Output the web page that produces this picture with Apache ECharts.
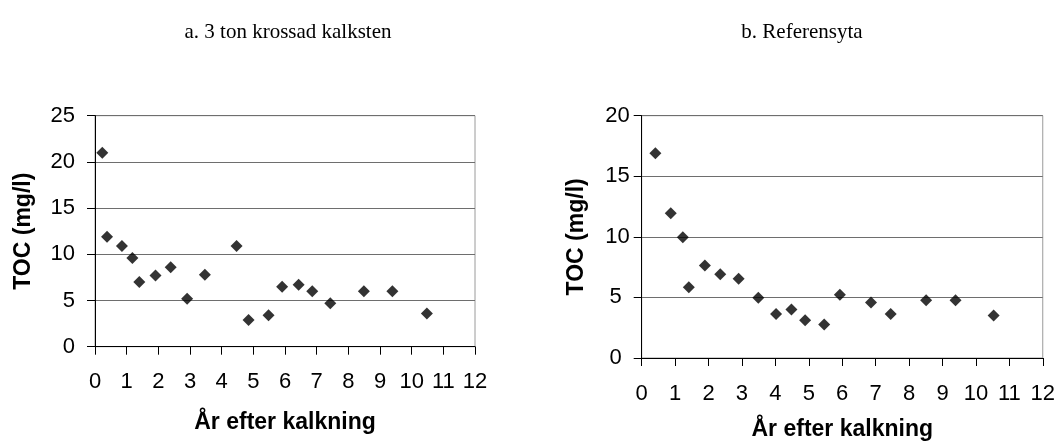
<!DOCTYPE html>
<html>
<head>
<meta charset="utf-8">
<script src="https://cdn.jsdelivr.net/npm/echarts@6/dist/echarts.min.js"></script>
<style>
html,body{margin:0;padding:0;background:#fff;}
#c{width:1058px;height:446px;}
</style>
</head>
<body>
<div id="c"></div>
<script>
// Panel titles
const titleA = 'a. 3 ton krossad kalksten';
const titleB = 'b. Referensyta';
const xName = 'År efter kalkning';
const yName = 'TOC (mg/l)';

// Panel a: 3 ton krossad kalksten
const yearsA = [0.23, 0.38, 0.85, 1.18, 1.40, 1.91, 2.39, 2.91, 3.47, 4.47, 4.85, 5.48, 5.91, 6.43, 6.86, 7.43, 8.49, 9.39, 10.48];
const tocA   = [21.0, 11.9, 10.9, 9.6, 7.0, 7.7, 8.6, 5.2, 7.8, 10.9, 2.9, 3.4, 6.5, 6.7, 6.0, 4.7, 6.0, 6.0, 3.6];

// Panel b: Referensyta
const yearsB = [0.41, 0.87, 1.23, 1.41, 1.89, 2.35, 2.90, 3.49, 4.02, 4.48, 4.89, 5.46, 5.93, 6.86, 7.45, 8.51, 9.39, 10.53];
const tocB   = [16.9, 11.95, 9.96, 5.84, 7.64, 6.92, 6.54, 4.98, 3.63, 4.01, 3.12, 2.77, 5.22, 4.58, 3.63, 4.76, 4.76, 3.50];

// Axis ranges
const xMax = 12, xStep = 1;
const yMaxA = 25, yMaxB = 20, yStep = 5;

const tickFont = {fontFamily: 'Liberation Sans, Arial, sans-serif', fontSize: 22, color: '#000'};
const nameFont = {fontFamily: 'Liberation Sans, Arial, sans-serif', fontSize: 23, fontWeight: 'bold', color: '#000'};
const titleFont = {fontFamily: 'Liberation Serif, Times New Roman, serif', fontSize: 21, fontWeight: 'normal', color: '#000'};

function pair(xs, ys){ return xs.map((x,i)=>[x, ys[i]]); }

function xAxis(idx, gap, margin){
  return {
    gridIndex: idx, type: 'value', min: 0, max: xMax, interval: xStep,
    name: xName, nameLocation: 'middle', nameGap: gap, nameTextStyle: nameFont,
    axisLine: {show: true, onZero: false, lineStyle: {color: '#000', width: 1}},
    axisTick: {show: true, inside: false, length: 8, lineStyle: {color: '#000'}},
    axisLabel: Object.assign({margin: margin}, tickFont),
    splitLine: {show: false}
  };
}
function yAxis(idx, max, gap, margin, rich){
  const ax = {
    gridIndex: idx, type: 'value', min: 0, max: max, interval: yStep,
    name: yName, nameLocation: 'middle', nameGap: gap, nameTextStyle: nameFont,
    axisLine: {show: true, lineStyle: {color: '#000', width: 1}},
    axisTick: {show: true, inside: false, length: 8, lineStyle: {color: '#000'}},
    axisLabel: Object.assign({margin: margin}, tickFont),
    splitLine: {show: true, lineStyle: {color: '#6e6e6e', width: 1}}
  };
  if (rich) {
    ax.axisLabel.formatter = function(v){ return v < 10 ? '{s|' + v + '}' : '{d|' + v + '}'; };
    ax.axisLabel.rich = {
      s: Object.assign({padding: [0, 8, 0, 0]}, tickFont),
      d: Object.assign({}, tickFont)
    };
  }
  return ax;
}

const chart = echarts.init(document.getElementById('c'), null, {renderer: 'canvas'});
chart.setOption({
  backgroundColor: '#fff',
  animation: false,
  title: [
    {text: titleA, left: 283, textAlign: 'center', top: 17, textStyle: titleFont},
    {text: titleB, left: 797, textAlign: 'center', top: 17, textStyle: titleFont}
  ],
  grid: [
    {left: 95, top: 115.7, width: 380, height: 231, show: true, borderColor: '#9a9a9a', borderWidth: 1, backgroundColor: 'transparent'},
    {left: 641.7, top: 115.7, width: 401.6, height: 247.6, show: true, borderColor: '#9a9a9a', borderWidth: 1, backgroundColor: 'transparent'}
  ],
  xAxis: [xAxis(0, 64, 24), xAxis(1, 60, 25)],
  yAxis: [yAxis(0, yMaxA, 60, 20, false), yAxis(1, yMaxB, 54, 12, true)],
  series: [
    {type: 'scatter', xAxisIndex: 0, yAxisIndex: 0, data: pair(yearsA, tocA),
     symbol: 'diamond', symbolSize: 12, itemStyle: {color: '#000'}},
    {type: 'scatter', xAxisIndex: 1, yAxisIndex: 1, data: pair(yearsB, tocB),
     symbol: 'diamond', symbolSize: 12, itemStyle: {color: '#000'}}
  ]
});
</script>
</body>
</html>
